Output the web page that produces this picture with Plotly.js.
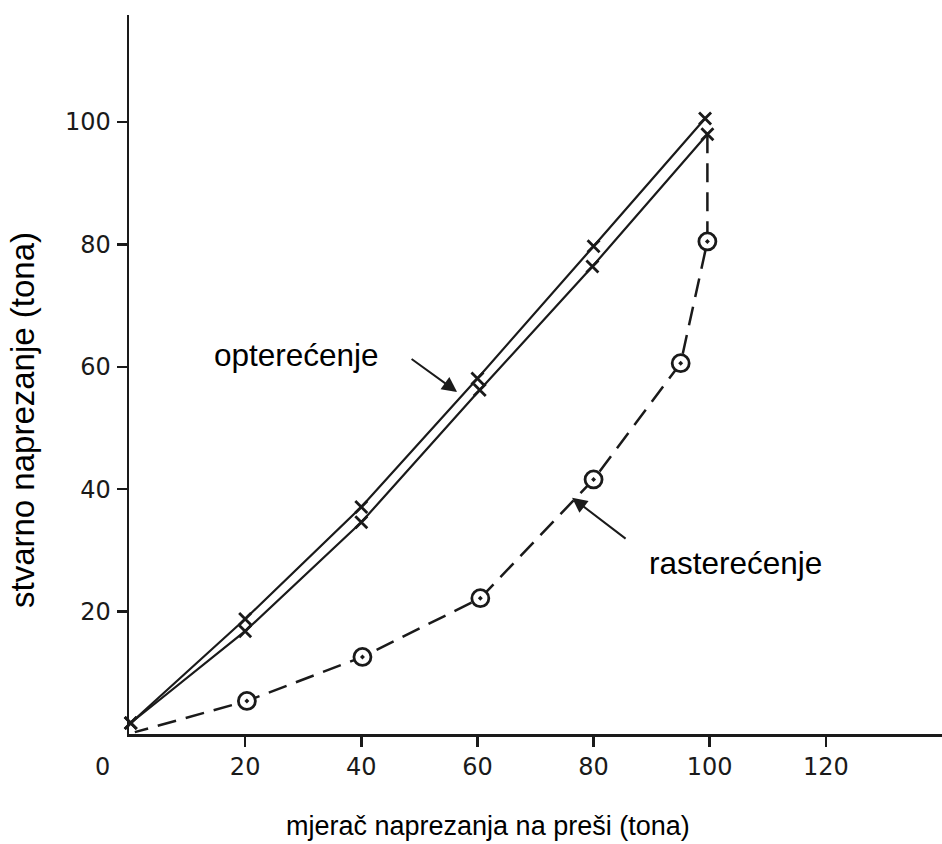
<!DOCTYPE html>
<html>
<head>
<meta charset="utf-8">
<script src="https://cdn.plot.ly/plotly-3.0.1.min.js"></script>
<style>html,body{margin:0;padding:0;background:#fff;}#chart{width:942px;height:844px;}</style>
</head>
<body>
<div id="chart"></div>
<script>
// Loading run 1 (upper solid line, x markers)
const loadUpperX = [0.3, 20, 40, 60, 80, 99.2];
const loadUpperY = [1.8, 18.8, 37.1, 58.1, 79.7, 100.6];
// Loading run 2 (lower solid line, x markers)
const loadLowerX = [0.3, 20, 40, 60.4, 79.8, 99.6];
const loadLowerY = [1.8, 16.8, 34.6, 56.2, 76.4, 98.0];
// Unloading (dashed line, circled dots)
const unloadX = [99.6, 99.6, 95, 80, 60.5, 40.2, 20.3, 1];
const unloadY = [98.0, 80.5, 60.6, 41.6, 22.2, 12.6, 5.4, 0.3];
const circX = unloadX.slice(1, -1);
const circY = unloadY.slice(1, -1);
// Tick labels
const xTicks = [20, 40, 60, 80, 100, 120];
const yTicks = [20, 40, 60, 80, 100];
const xTitle = 'mjerač naprezanja na preši (tona)';
const yTitle = 'stvarno naprezanje (tona)';
const labelLoad = 'opterećenje';
const labelUnload = 'rasterećenje';

const ink = '#1a1a1a';
const xMarker = {symbol: 'x-thin', size: 12, color: ink, line: {color: ink, width: 2.8}};

const traces = [
  {x: loadUpperX, y: loadUpperY, mode: 'lines+markers', line: {color: ink, width: 2.2}, marker: xMarker, cliponaxis: false, hoverinfo: 'skip'},
  {x: loadLowerX, y: loadLowerY, mode: 'lines+markers', line: {color: ink, width: 2.2}, marker: xMarker, cliponaxis: false, hoverinfo: 'skip'},
  {x: unloadX, y: unloadY, mode: 'lines', line: {color: ink, width: 2.5, dash: '19px,10px'}, cliponaxis: false, hoverinfo: 'skip'},
  {x: circX, y: circY, mode: 'markers', marker: {symbol: 'circle-dot', size: 17, color: '#fff', line: {color: ink, width: 2.8}}, cliponaxis: false, hoverinfo: 'skip'}
];

const tickFont = {family: 'DejaVu Sans, sans-serif', size: 24, color: ink};
const labelFont = {family: 'Liberation Sans, Arial, sans-serif', size: 31.5, color: '#000'};
const xTitleFont = {family: 'Liberation Sans, Arial, sans-serif', size: 27, color: '#000'};
const yTitleFont = {family: 'Liberation Sans, Arial, sans-serif', size: 33, color: '#000'};

const layout = {
  width: 942, height: 844,
  margin: {l: 129, r: 0, t: 15, b: 110, pad: 0},
  paper_bgcolor: '#fff', plot_bgcolor: '#fff',
  showlegend: false,
  xaxis: {
    range: [0, 140], showgrid: false, zeroline: false,
    showline: true, linecolor: ink, linewidth: 2.5,
    ticks: 'outside', ticklen: 10, tickwidth: 2.5, tickcolor: ink,
    tickvals: xTicks, ticktext: xTicks.map(String), tickfont: tickFont,
    ticklabelstandoff: 0
  },
  yaxis: {
    range: [0, 117.5], showgrid: false, zeroline: false,
    showline: true, linecolor: ink, linewidth: 2.5,
    ticks: 'outside', ticklen: 10, tickwidth: 2.5, tickcolor: ink,
    tickvals: yTicks, ticktext: yTicks.map(String), tickfont: tickFont,
    ticklabelstandoff: 1
  },
  annotations: [
    {xref: 'paper', yref: 'paper', x: -0.0332, y: -0.0459, text: '0', showarrow: false, font: tickFont, xanchor: 'center', yanchor: 'middle'},
    {xref: 'paper', yref: 'paper', x: 0.4416, y: -0.128, text: xTitle, showarrow: false, font: xTitleFont, xanchor: 'center', yanchor: 'middle'},
    {xref: 'paper', yref: 'paper', x: -0.1316, y: 0.4367, text: yTitle, showarrow: false, font: yTitleFont, textangle: -90, xanchor: 'center', yanchor: 'middle'},
    {x: 28.8, y: 61.9, text: labelLoad, showarrow: false, font: labelFont, xanchor: 'center', yanchor: 'middle'},
    {x: 104.4, y: 28.0, text: labelUnload, showarrow: false, font: labelFont, xanchor: 'center', yanchor: 'middle'},
    {x: 56.5, y: 55.9, text: '', showarrow: true, arrowhead: 2, arrowsize: 1.5, arrowwidth: 2, arrowcolor: ink, ax: -47, ay: -34, standoff: 0},
    {x: 76.3, y: 38.6, text: '', showarrow: true, arrowhead: 2, arrowsize: 1.5, arrowwidth: 2, arrowcolor: ink, ax: 55, ay: 42, standoff: 0}
  ]
};

Plotly.newPlot('chart', traces, layout, {staticPlot: true, displayModeBar: false});
</script>
</body>
</html>
